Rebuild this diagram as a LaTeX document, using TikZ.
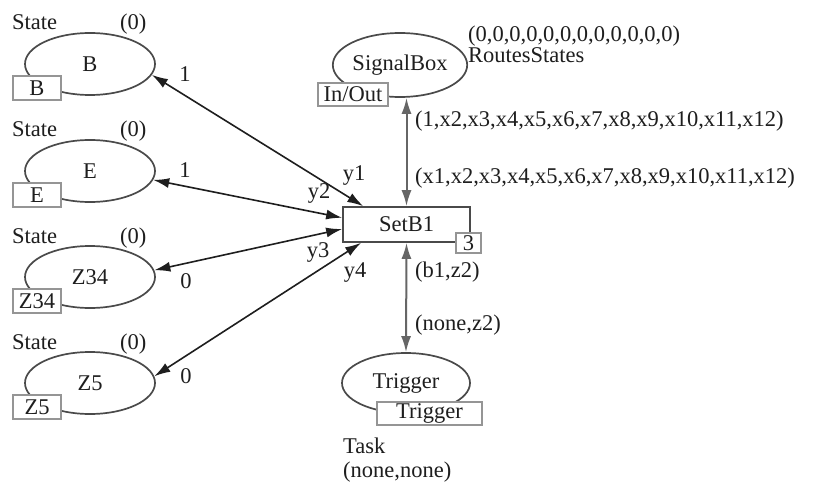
\documentclass[tikz,border=0pt]{standalone}
\usepackage{fontspec}
\setmainfont{Liberation Serif}
\usetikzlibrary{shapes.geometric,arrows.meta}
\definecolor{ink}{HTML}{1E1E1E}
\definecolor{oval}{HTML}{4A4A4A}
\definecolor{portline}{HTML}{959595}
\definecolor{vline}{HTML}{666666}
\tikzset{
  place/.style={shape=ellipse,draw=oval,line width=1.7pt,minimum width=130pt,minimum height=62pt,inner sep=0pt,text=ink},
  port/.style={draw=portline,fill=white,line width=1.6pt,inner sep=0pt,minimum height=24pt,text=ink},
  trans/.style={draw=oval,fill=white,line width=1.7pt,minimum width=127pt,minimum height=35pt,inner sep=0pt,text=ink},
  lbl/.style={anchor=base west,inner sep=0pt,text=ink},
  clbl/.style={anchor=base,inner sep=0pt,text=ink},
  arc/.style={draw=ink,line width=1.6pt,{Latex[length=16pt,width=10pt]}-{Latex[length=16pt,width=10pt]}},
  varc/.style={draw=vline,line width=2pt,{Latex[length=16pt,width=10pt]}-{Latex[length=16pt,width=10pt]}}
}
\begin{document}
\begin{tikzpicture}[x=1pt,y=-1pt,font=\fontsize{22.5}{27}\selectfont]
\useasboundingbox[fill=white] (0,0) rectangle (822,484);

% state places on the left
\foreach \nm/\yy in {B/64,E/171,Z34/277,Z5/383}{
  \node[place] (\nm) at (90,\yy) {\raisebox{-3pt}{\nm}};
  \node[port,minimum width=48pt] (\nm port) at (37,\yy+24) {\nm};
  \node[lbl] (\nm state) at (12,\yy-34) {State};
  \node[lbl] (\nm init) at (120,\yy-34) {(0)};
}

% signal box
\node[place,minimum width=126pt,minimum height=64pt] (SignalBox) at (400,65) {SignalBox};
\node[port,minimum width=70pt,minimum height=23pt] (SignalBoxPort) at (353,94.5) {In/Out};
\node[lbl] (sbinit) at (468,42) {(0,0,0,0,0,0,0,0,0,0,0,0)};
\node[lbl] (sbtype) at (468,63) {RoutesStates};

% transition
\node[trans] (SetB1) at (406.5,224.5) {SetB1};
\node[port,minimum width=25pt,minimum height=20pt] (prio) at (468.5,243) {3};

% trigger place
\node[place,minimum width=128pt,minimum height=60pt] (Trigger) at (406,383) {Trigger};
\node[port,minimum width=105pt,minimum height=23pt] (TriggerPort) at (429.5,413.5) {Trigger};
\node[lbl] (trtype) at (343,453) {Task};
\node[lbl] (trinit) at (343,477) {(none,none)};

% arcs between the transition and the state places
\draw[arc] (SetB1.157) -- (B.-10);
\draw[arc] (SetB1.174) -- (E.-8);
\draw[arc] (SetB1.184) -- (Z34.6);
\draw[arc] (SetB1.202) -- (Z5.6);

% vertical arcs
\draw[varc] (SetB1.north) -- (SetB1.north |- SignalBox.south);
\draw[varc] (SetB1.south) -- (Trigger.north);

% arc inscriptions
\node[clbl] (y1) at (354,180) {y1};
\node[clbl] (y2) at (319,198) {y2};
\node[clbl] (y3) at (318,257) {y3};
\node[clbl] (y4) at (355,277) {y4};
\node[clbl] (bval) at (185,82) {1};
\node[clbl] (eval) at (185,177) {1};
\node[clbl] (zaval) at (186,288) {0};
\node[clbl] (zbval) at (186,383) {0};
\node[lbl] (sbout) at (415,127) {(1,x2,x3,x4,x5,x6,x7,x8,x9,x10,x11,x12)};
\node[lbl] (sbin) at (415,183) {(x1,x2,x3,x4,x5,x6,x7,x8,x9,x10,x11,x12)};
\node[lbl] (trin) at (415,277) {(b1,z2)};
\node[lbl] (trout) at (415,330) {(none,z2)};
\end{tikzpicture}
\end{document}
